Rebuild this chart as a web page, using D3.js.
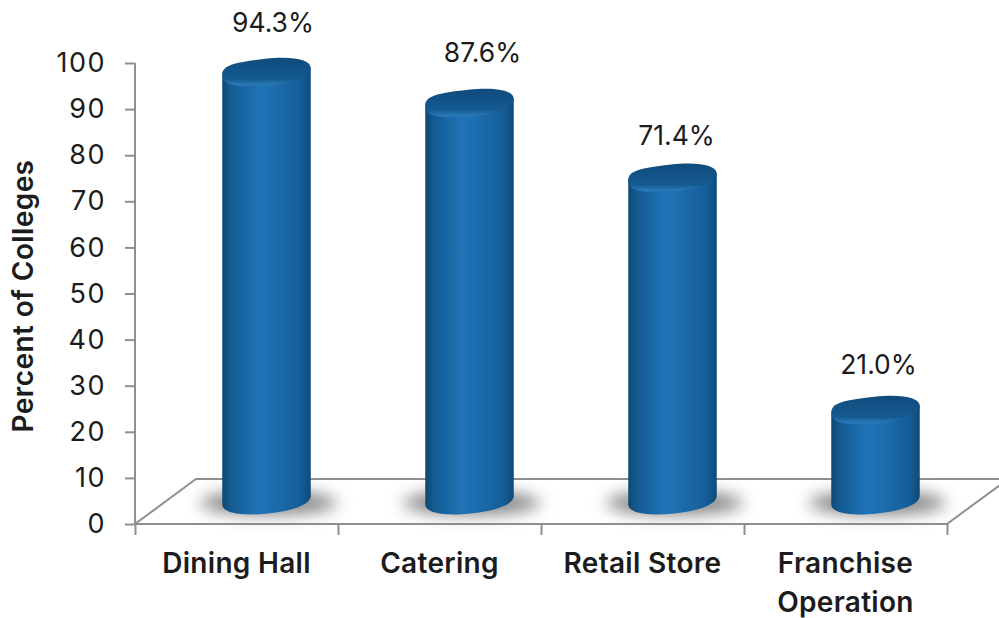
<!DOCTYPE html>
<html>
<head>
<meta charset="utf-8">
<script src="https://cdn.jsdelivr.net/npm/d3@7/dist/d3.min.js"></script>
<style>
  html, body { margin: 0; padding: 0; background: #fff; }
  svg { display: block; }
  text { font-family: Inter, "Open Sans", sans-serif; fill: #1c1c1c; }
</style>
</head>
<body>
<svg id="chart" width="999" height="618"></svg>
<script>
const categories = ["Dining Hall", "Catering", "Retail Store", "Franchise"];
const secondLines = ["", "", "", "Operation"];
const percentValues = [94.3, 87.6, 71.4, 21.0];
const valueLabels = ["94.3%", "87.6%", "71.4%", "21.0%"];
const yTicks = [0, 10, 20, 30, 40, 50, 60, 70, 80, 90, 100];
const yTitle = "Percent of Colleges";

const svg = d3.select("#chart");
const axisColor = "#8f8f8f";

const y = d3.scaleLinear().domain([0, 100]).range([524, 63]);
const x = d3.scaleBand().domain(categories).range([135, 947]);

// Depth of the oblique floor, in pixels
const depthX = 61, depthY = 45;
// Cylinders sit part way back on the floor
const barShiftX = 30, barRx = 44.5, barRy = 13.5, tilt = 6;
const baseLift = 24, topLift = 17;
const tiltRad = tilt * Math.PI / 180;
// Control-point factors: above a true ellipse for fuller shoulders
const bulge = 0.62, shoulder = 0.8;

// Small per-label placement tweaks relative to the cylinder top
const labelDx = [6.5, 13, 4, 3];
const labelDy = [-40, -41, -33, -36];

const defs = svg.append("defs");

const body = defs.append("linearGradient").attr("id", "barBody");
[[0, "#0f4873"], [0.1, "#145b93"], [0.42, "#1f74b7"], [0.6, "#1c6cad"], [0.88, "#155e98"], [1, "#0f4a77"]]
  .forEach(([o, c]) => body.append("stop").attr("offset", o).attr("stop-color", c));

const cap = defs.append("linearGradient").attr("id", "barCap").attr("x2", 0).attr("y2", 1);
[[0, "#104b7c"], [0.74, "#145a91"], [0.94, "#2a7bb9"], [1, "#1d6aa6"]]
  .forEach(([o, c]) => cap.append("stop").attr("offset", o).attr("stop-color", c));

defs.append("filter").attr("id", "shadowBlur")
  .attr("x", "-30%").attr("y", "-80%").attr("width", "160%").attr("height", "260%")
  .append("feGaussianBlur").attr("stdDeviation", 8);

// A point in the tilted cap frame, moved to screen coordinates
const rot = (px, py) => [px * Math.cos(tiltRad) + py * Math.sin(tiltRad), -px * Math.sin(tiltRad) + py * Math.cos(tiltRad)];
const pt = (cy, px, py) => { const [a, b] = rot(px, py); return `${a},${b + cy}`; };

// Lower half of the rounded outline, left to right
const lowerHalf = cy =>
  `C${pt(cy, -barRx, barRy * bulge)} ${pt(cy, -barRx * bulge, barRy)} ${pt(cy, 0, barRy)}` +
  `C${pt(cy, barRx * bulge, barRy)} ${pt(cy, barRx, barRy * bulge)} ${pt(cy, barRx, 0)}`;
// Upper half of the rounded outline, right to left, with a fuller left shoulder
const upperHalf = cy =>
  `C${pt(cy, barRx, -barRy * bulge)} ${pt(cy, barRx * bulge, -barRy)} ${pt(cy, 0, -barRy)}` +
  `C${pt(cy, -barRx * shoulder, -barRy)} ${pt(cy, -barRx, -barRy * shoulder)} ${pt(cy, -barRx, 0)}`;

// Floor outline behind the bars
const floor = svg.append("g").attr("fill", "none").attr("stroke", axisColor).attr("stroke-width", 2);
floor.append("path").attr("d", d3.line()([
  [x.range()[0], y(0)],
  [x.range()[0] + depthX, y(0) - depthY],
  [x.range()[1] + depthX, y(0) - depthY],
  [x.range()[1], y(0)]
]));

// Value axis
const yAxis = svg.append("g")
  .attr("transform", `translate(${x.range()[0]},0)`)
  .call(d3.axisLeft(y).tickValues(yTicks).tickSize(10).tickPadding(19).tickFormat(d3.format("d")));
yAxis.selectAll("path, line").attr("stroke", axisColor).attr("stroke-width", 2);
yAxis.select(".domain").attr("d", `M0,${y(100)}V${y(0)}`);
yAxis.selectAll("text").attr("font-size", 27).attr("letter-spacing", 1.5)
  .style("font-family", "Inter, sans-serif").attr("fill", "#1c1c1c");

// Category axis, ticks on the band boundaries
const edges = d3.scaleLinear().domain([0, categories.length]).range(x.range());
const xAxis = svg.append("g")
  .attr("transform", `translate(0,${y(0)})`)
  .call(d3.axisBottom(edges).tickValues(d3.range(categories.length + 1)).tickSize(11).tickFormat(""));
xAxis.selectAll("path, line").attr("stroke", axisColor).attr("stroke-width", 2);
xAxis.select(".domain").attr("d", `M${x.range()[0]},0H${x.range()[1]}`);

// Cylinders
const bars = svg.append("g").selectAll("g").data(categories).join("g")
  .attr("transform", d => `translate(${x(d) + x.bandwidth() / 2 + barShiftX},0)`);

const baseY = y(0) - baseLift;
bars.append("ellipse")
  .attr("cx", 2).attr("cy", baseY + 3)
  .attr("rx", barRx + 24).attr("ry", 12)
  .attr("fill", "#858585").attr("filter", "url(#shadowBlur)");

bars.append("path")
  .attr("fill", "url(#barBody)")
  .attr("d", (d, i) => {
    const topY = y(percentValues[i]) - topLift;
    const [lx, ly] = rot(-barRx, 0);
    const [rx, ry] = rot(barRx, 0);
    return `M${lx},${topY + ly}L${lx},${baseY + ly}` + lowerHalf(baseY) + `L${rx},${topY + ry}Z`;
  });
bars.append("path")
  .attr("fill", "url(#barCap)")
  .attr("d", (d, i) => {
    const topY = y(percentValues[i]) - topLift;
    const [lx, ly] = rot(-barRx, 0);
    return `M${lx},${topY + ly}` + lowerHalf(topY) + upperHalf(topY) + "Z";
  });

// Value labels above each cylinder
bars.append("text")
  .attr("text-anchor", "middle")
  .attr("font-size", 26.5)
  .attr("x", (d, i) => labelDx[i])
  .attr("y", (d, i) => y(percentValues[i]) - topLift + labelDy[i])
  .text((d, i) => valueLabels[i]);

// Category labels
const catLabels = svg.append("g").attr("text-anchor", "middle")
  .attr("font-size", 28).attr("font-weight", 600).attr("letter-spacing", 0.3);
catLabels.selectAll("text.first").data(categories).join("text").attr("class", "first")
  .attr("x", d => x(d) + x.bandwidth() / 2).attr("y", 573).text(d => d);
catLabels.selectAll("text.second").data(secondLines).join("text").attr("class", "second")
  .attr("x", (d, i) => x(categories[i]) + x.bandwidth() / 2).attr("y", 612).text(d => d);

// Axis title
svg.append("text")
  .attr("transform", "translate(33,296) rotate(-90)")
  .attr("text-anchor", "middle")
  .attr("font-size", 28).attr("font-weight", 600).attr("letter-spacing", 0.4)
  .text(yTitle);
</script>
</body>
</html>
